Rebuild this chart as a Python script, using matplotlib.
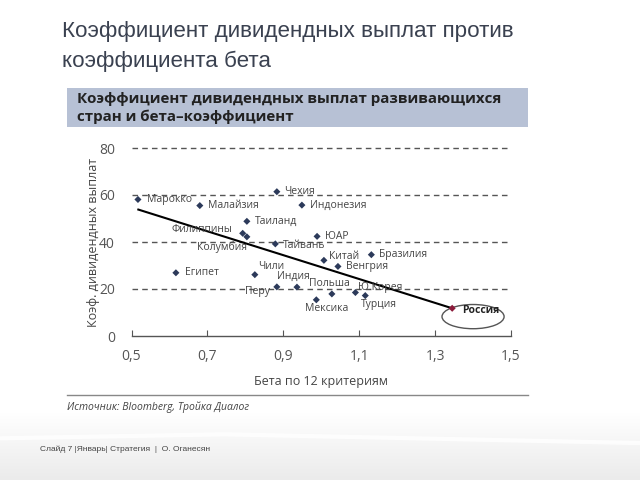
import matplotlib
matplotlib.use("Agg")
import matplotlib.pyplot as plt
import numpy as np
from matplotlib.patches import Ellipse, Rectangle
from matplotlib.lines import Line2D

plt.rcParams['font.family'] = ['Open Sans', 'DejaVu Sans']

# ---- data ----
countries = ["Марокко", "Малайзия", "Чехия", "Индонезия", "Таиланд", "Филиппины",
             "Колумбия", "Тайвань", "ЮАР", "Китай", "Бразилия", "Венгрия", "Египет",
             "Чили", "Индия", "Перу", "Польша", "Ю.Корея", "Мексика", "Турция", "Россия"]
beta = [0.517, 0.680, 0.883, 0.949, 0.804, 0.793, 0.804, 0.879, 0.989, 1.007, 1.132,
        1.044, 0.617, 0.825, 0.936, 0.883, 1.028, 1.090, 0.987, 1.116, 1.345]
payout = [58.1, 55.5, 61.4, 55.7, 48.8, 43.7, 42.2, 39.2, 42.4, 32.2, 34.6, 29.6, 26.9,
          26.1, 20.8, 20.9, 17.9, 18.5, 15.4, 17.2, 11.8]
trend_x = [0.518, 1.345]
trend_y = [53.8, 11.8]
x_ticks = [0.5, 0.7, 0.9, 1.1, 1.3, 1.5]
x_tick_labels = ["0,5", "0,7", "0,9", "1,1", "1,3", "1,5"]
y_ticks = [0, 20, 40, 60, 80]

# label placement (offset in pixels, horizontal alignment)
label_style = {
    "Марокко": (9, 0, "left"), "Малайзия": (8, 0, "left"), "Чехия": (7, 0, "left"),
    "Индонезия": (8, 0, "left"), "Таиланд": (8, 0, "left"), "Филиппины": (-10, 4, "right"),
    "Колумбия": (0, -10, "right"), "Тайвань": (8, -2, "left"), "ЮАР": (8, 0, "left"),
    "Китай": (5, 4, "left"), "Бразилия": (8, 0, "left"), "Венгрия": (8, 0, "left"),
    "Египет": (9, 0, "left"), "Чили": (3, 8, "left"), "Индия": (-4, 11, "center"),
    "Перу": (-7, -5, "right"), "Польша": (-2, 10, "center"), "Ю.Корея": (3, 5, "left"),
    "Мексика": (10, -9, "center"), "Турция": (-4, -9, "left"), "Россия": (10, -2, "left"),
}

fig = plt.figure(figsize=(6.4, 4.8), dpi=100)
fig.patch.set_facecolor("white")

# bottom background gradient
bg = fig.add_axes([0, 0, 1, 0.14], zorder=-5)
grad = np.linspace(0, 1, 100).reshape(-1, 1)
bg.imshow(grad, aspect="auto", cmap=matplotlib.colors.LinearSegmentedColormap.from_list(
    "g", ["#ebebeb", "#ffffff"]), extent=[0, 1, 0, 1], origin="lower")
bg.plot([0, 0.35, 1], [0.62, 0.68, 0.55], color="white", lw=3, alpha=0.8)
bg.set_axis_off()

# title
fig.text(62 / 640, 1 - 32 / 480, "Коэффициент дивидендных выплат против", fontsize=16.1,
         color="#3a4150", family=["Liberation Sans", "DejaVu Sans"], va="center")
fig.text(62 / 640, 1 - 61 / 480, "коэффициента бета", fontsize=16.1,
         color="#3a4150", family=["Liberation Sans", "DejaVu Sans"], va="center")

# header box
fig.patches.append(Rectangle((67 / 640, 1 - 127 / 480), 461 / 640, 39 / 480,
                             transform=fig.transFigure, facecolor="#b7c1d5",
                             edgecolor="none", zorder=0))
fig.text(77 / 640, 1 - 99 / 480, "Коэффициент дивидендных выплат развивающихся",
         fontsize=10.9, weight="bold", color="#222222", va="center")
fig.text(77 / 640, 1 - 117 / 480, "стран и бета–коэффициент",
         fontsize=10.9, weight="bold", color="#222222", va="center")

# main axes
ax = fig.add_axes([131.5 / 640, 1 - 336 / 480, 379.5 / 640, 188 / 480])
ax.set_xlim(0.5, 1.5)
ax.set_ylim(0, 80)
for s in ["top", "right", "left"]:
    ax.spines[s].set_visible(False)
ax.spines["bottom"].set_color("#555555")
ax.spines["bottom"].set_linewidth(1)
ax.set_xticks(x_ticks)
ax.set_xticklabels(x_tick_labels)
ax.set_yticks(y_ticks)
ax.tick_params(axis="x", direction="in", length=4, color="#555555", labelsize=10,
               labelcolor="#555555", pad=9)
ax.tick_params(axis="y", length=0, labelsize=10, labelcolor="#555555", pad=12)
for yv in y_ticks[1:]:
    ax.axhline(yv, color="#555555", lw=1, ls=(0, (4, 3)), zorder=1, clip_on=False)

ax.plot(trend_x, trend_y, color="black", lw=1.5, zorder=2)

colors = ["#2c3a5a"] * (len(countries) - 1) + ["#8b1a3a"]
ax.scatter(beta, payout, marker="D", s=13, c=colors, zorder=3, linewidths=0)

for name, bx, py in zip(countries, beta, payout):
    dx, dy, ha = label_style[name]
    ax.annotate(name, (bx, py), xytext=(dx, dy), textcoords="offset pixels",
                fontsize=7.5, ha=ha, va="center",
                color="#222222" if name == "Россия" else "#444444",
                weight="bold" if name == "Россия" else "normal", zorder=4)

ax.add_patch(Ellipse((1.400, 8.25), 0.1636, 10.3, fill=False, edgecolor="#555555",
                     lw=1, zorder=2))

ax.set_xlabel("Бета по 12 критериям", fontsize=9, color="#444444", labelpad=8)
ax.set_ylabel("Коэф. дивидендных выплат", fontsize=9, color="#444444", labelpad=-1)

# separator and source
fig.lines.append(Line2D([67 / 640, 528 / 640], [1 - 395 / 480, 1 - 395 / 480],
                        transform=fig.transFigure, color="#888888", lw=1))
fig.text(67 / 640, 1 - 407 / 480, "Источник: Bloomberg, Тройка Диалог", fontsize=7.5,
         style="italic", color="#444444", va="center")

# footer
fig.text(40 / 640, 1 - 449 / 480, "Слайд 7 |Январь| Стратегия  |  О. Оганесян", fontsize=6,
         color="#444444", family=["Liberation Sans", "DejaVu Sans"], va="center")

fig.savefig("out.png", dpi=100)
